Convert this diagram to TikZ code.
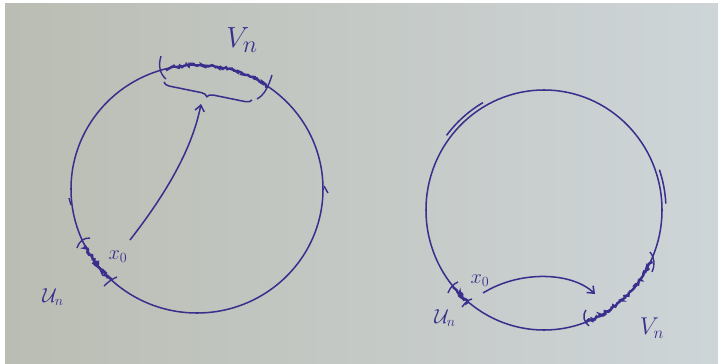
\documentclass[tikz,border=0pt]{standalone}
\usepackage{amsmath}
\usepackage{amssymb}
\usetikzlibrary{arrows.meta,decorations.pathmorphing,decorations.pathreplacing}
\definecolor{ink}{HTML}{3A2F8C}
\definecolor{paperl}{RGB}{186,189,179}
\definecolor{paperr}{RGB}{206,213,216}
\tikzset{
  pen/.style={draw=ink, line width=1.3pt},
  hatch/.style={draw=ink, line width=2pt, decorate, decoration={random steps, segment length=1.4pt, amplitude=1.3pt}},
  tick/.style={draw=ink, line width=1.2pt},
  lbl/.style={text=ink, inner sep=0pt},
  arr/.style={draw=ink, line width=1.3pt, -{Straight Barb[length=5pt, width=8pt]}},
}

\begin{document}
\begin{tikzpicture}[x=0.03cm, y=-0.03cm]
  \useasboundingbox (0,0) rectangle (718,364);
  \fill[white] (0,0) rectangle (718,364);
  \shade[left color=paperl, right color=paperr] (5,3) rectangle (718,364);

  % Left circle
  \coordinate (lc) at (197,189);
  \draw[pen] (lc) ellipse [x radius=126, y radius=124];
  \draw[tick] (69,198) -- (71,205);
  \draw[tick] (324,186) -- (328,193);

  % Left V_n
  \draw[hatch] ([shift={(-104:126 and 124)}]lc) arc[start angle=-104, end angle=-56, x radius=126, y radius=124];
  \draw[tick] (161,56) .. controls (158,66) and (160,74) .. (166,79);
  \draw[tick] (272,75) .. controls (268,88) and (264,95) .. (257,99);
  \draw[pen, decorate, decoration={brace, amplitude=5pt}] (252,100) -- (164,82);
  \coordinate (bl) at (201,104);
  \node[lbl, font=\Huge] (vnl) at (242,40) {$V_n$};

  % Left U_n
  \draw[hatch] ([shift={(153:126 and 124)}]lc) arc[start angle=153, end angle=133, x radius=126, y radius=124];
  \draw[tick] (77,248) .. controls (80,240) and (84,238) .. (90,238);
  \draw[tick] (104,286) .. controls (108,282) and (112,279) .. (117,277);
  \fill[ink] ([shift={(143:126 and 124)}]lc) circle (3);
  \node[lbl, font=\LARGE] (x0l) at (118,257) {$x_0$};
  \node[lbl, font=\LARGE] (unl) at (53,297) {$\mathcal{U}_n$};
  \coordinate (al) at (130,240);
  \draw[arr] (al) .. controls (165,195) and (192,150) .. (bl);

  % Right circle
  \coordinate (rc) at (544,210);
  \draw[pen] (rc) ellipse [x radius=118, y radius=120];
  \draw[pen] ([shift={(-143:122 and 124)}]rc) arc[start angle=-143, end angle=-120, x radius=122, y radius=124];
  \draw[pen] ([shift={(-19:122 and 124)}]rc) arc[start angle=-19, end angle=-3, x radius=122, y radius=124];

  % Right U_n
  \draw[hatch] ([shift={(140:118 and 120)}]rc) arc[start angle=140, end angle=130, x radius=118, y radius=120];
  \draw[tick] (448,293) .. controls (450,288) and (453,284) .. (458,282);
  \draw[tick] (462,307) .. controls (465,303) and (468,300) .. (472,299);
  \fill[ink] ([shift={(135:118 and 120)}]rc) circle (3);
  \node[lbl, font=\LARGE] (x0r) at (480,281) {$x_0$};
  \node[lbl, font=\LARGE] (unr) at (445,318) {$\mathcal{U}_n$};

  % Right V_n
  \draw[hatch] ([shift={(69:118 and 120)}]rc) arc[start angle=69, end angle=25, x radius=118, y radius=120];
  \draw[tick] (586,310) .. controls (582,316) and (584,322) .. (589,326);
  \draw[tick] (650,252) .. controls (655,258) and (655,266) .. (652,272);
  \node[lbl, font=\huge] (vnr) at (652,328) {$V_n$};
  \coordinate (ar) at (483,293);
  \coordinate (br) at (595,294);
  \draw[arr] (ar) .. controls (520,270) and (572,272) .. (br);
\end{tikzpicture}
\end{document}
